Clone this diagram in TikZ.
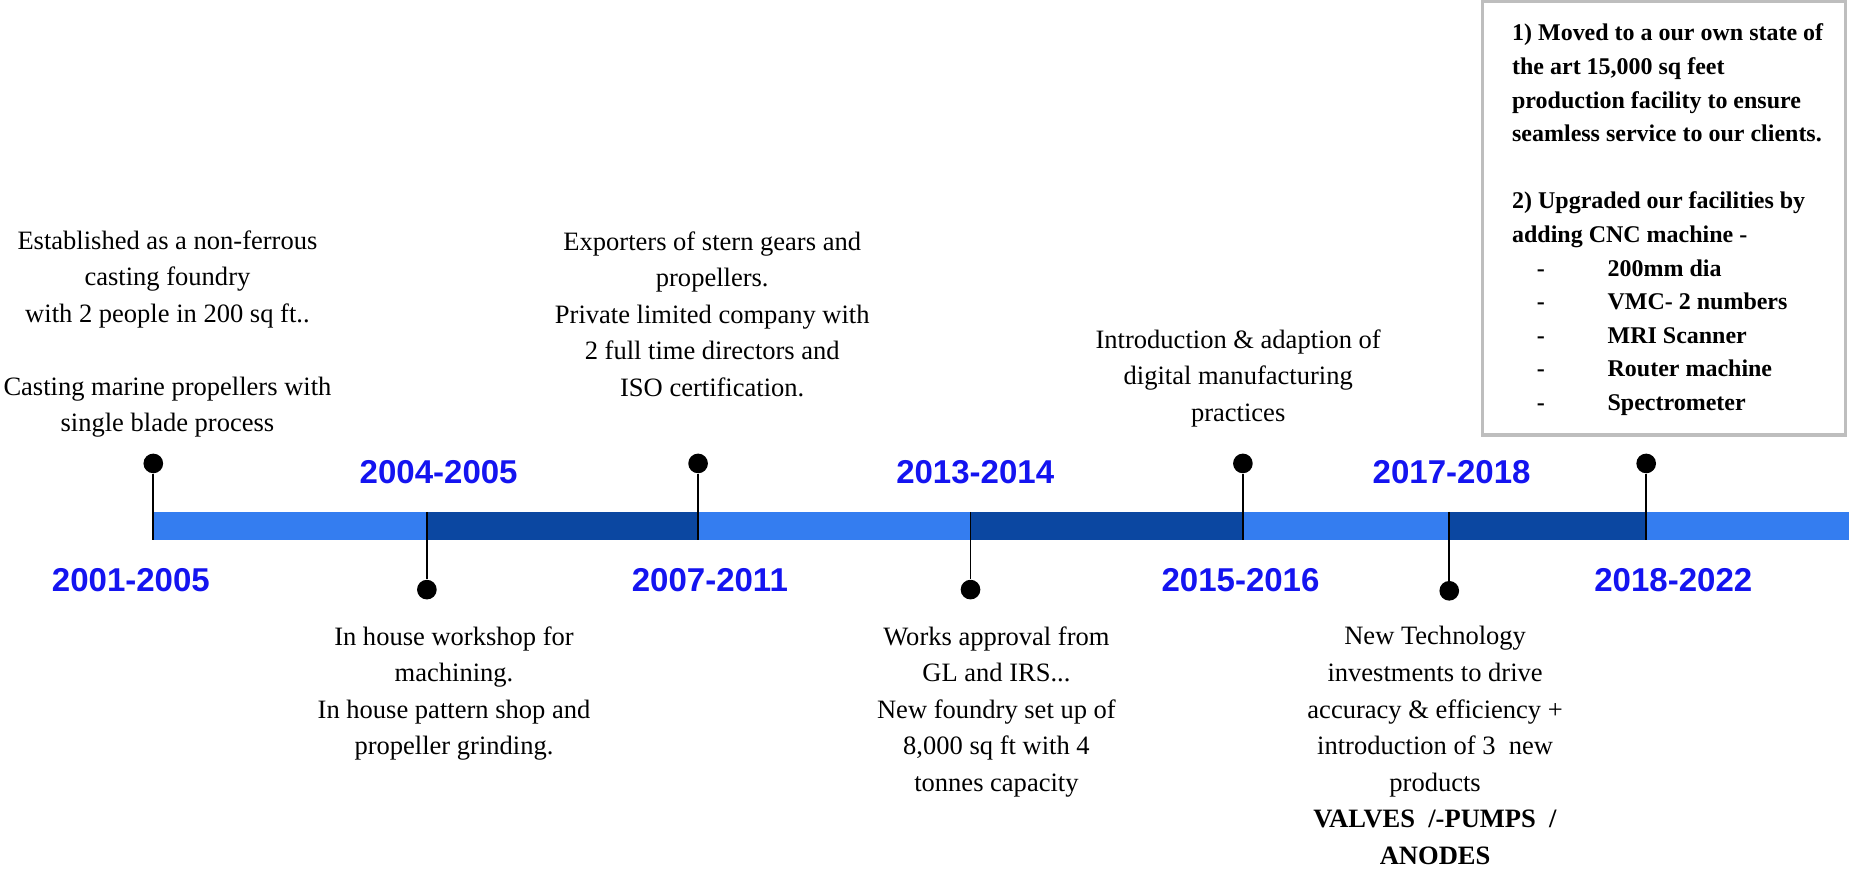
\documentclass[tikz,border=0pt]{standalone}
\usepackage{fontspec}
\setmainfont{Liberation Serif}
\newfontfamily\yearfont{Liberation Sans}
\definecolor{barlight}{RGB}{52,125,240}
\definecolor{bardark}{RGB}{11,71,161}
\definecolor{yearblue}{RGB}{20,20,240}
\definecolor{boxgray}{RGB}{190,190,190}
\newcommand{\machineitem}[1]{\hspace*{12.6pt}\makebox[36pt][l]{-}#1}

\begin{document}
\begin{tikzpicture}[x=0.6pt, y=-0.6pt]
  \tikzstyle{dot} = [circle, fill=black, inner sep=0pt, minimum size=10pt]
  \tikzstyle{stem} = [line width=0.95pt]
  \tikzstyle{year} = [text=yearblue, font=\yearfont\bfseries\fontsize{16.8}{20}\selectfont, inner sep=0pt]
  \tikzstyle{event} = [align=center, font=\fontsize{13.5}{18.6}\selectfont, inner sep=0pt, anchor=north]
  \tikzstyle{facts} = [align=left, font=\bfseries\fontsize{12.2}{17.1}\selectfont, inner sep=0pt, anchor=north west]

  \useasboundingbox (0,0) rectangle (1568,738);

  % Bar
  \foreach \a/\b/\c in {130/362/barlight, 362/592/bardark, 592/823/barlight, 823/1054/bardark,
                        1054/1229/barlight, 1229/1396/bardark, 1396/1568/barlight}
    \fill[\c] (\a,434) rectangle (\b,458);

  % Nodes
  \node[dot] (D1) at (130,393) {};
  \node[dot] (D2) at (362,500) {};
  \node[dot] (D3) at (592,393) {};
  \node[dot] (D4) at (823,500) {};
  \node[dot] (D5) at (1054,393) {};
  \node[dot] (D6) at (1229,501) {};
  \node[dot] (D7) at (1396,393) {};

  \coordinate (B1) at (130,458);
  \coordinate (B2) at (362,434);
  \coordinate (B3) at (592,458);
  \coordinate (B4) at (823,434);
  \coordinate (B5) at (1054,458);
  \coordinate (B6) at (1229,434);
  \coordinate (B7) at (1396,458);

  % Stems
  \draw[stem] (D1) -- (B1);
  \draw[stem] (B2) -- (D2);
  \draw[stem] (D3) -- (B3);
  \draw[stem] (B4) -- (D4);
  \draw[stem] (D5) -- (B5);
  \draw[stem] (B6) -- (D6);
  \draw[stem] (D7) -- (B7);

  % Years
  \node[year] (Y1) at (111,492) {2001-2005};
  \node[year] (Y2) at (372,400) {2004-2005};
  \node[year] (Y3) at (602,492) {2007-2011};
  \node[year] (Y4) at (827,400) {2013-2014};
  \node[year] (Y5) at (1052,492) {2015-2016};
  \node[year] (Y6) at (1231,400) {2017-2018};
  \node[year] (Y7) at (1419,492) {2018-2022};

  % Texts
  \node[event] (T1) at (142,195) {Established as a non-ferrous\\casting foundry\\ with 2 people in 200 sq ft..\\[18.6pt]Casting marine propellers with\\single blade process};
  \node[event] (T2) at (385,531) {In house workshop for\\machining.\\In house pattern shop and\\propeller grinding.};
  \node[event] (T3) at (604,196) {Exporters of stern gears and\\propellers.\\Private limited company with\\2 full time directors and\\ISO certification.};
  \node[event] (T4) at (845,531) {Works approval from\\GL and IRS...\\New foundry set up of\\8,000 sq ft with 4\\tonnes capacity};
  \node[event] (T5) at (1050,279) {Introduction \& adaption of\\digital manufacturing\\practices};
  \node[event] (T6) at (1217,531) {New Technology\\investments to drive\\accuracy \& efficiency +\\introduction of 3~ new\\products\\\textbf{VALVES~ /-PUMPS~ /}\\\textbf{ANODES}};

  % Box
  \draw[boxgray, line width=1.8pt] (1257,1) rectangle (1565,369);
  \node[facts] (T7) at (1282,20) {1) Moved to a our own state of\\the art 15,000 sq feet\\production facility to ensure\\seamless service to our clients.\\[17.1pt]2) Upgraded our facilities by\\adding CNC machine -\\\machineitem{200mm dia}\\\machineitem{VMC- 2 numbers}\\\machineitem{MRI Scanner}\\\machineitem{Router machine}\\\machineitem{Spectrometer}};

\end{tikzpicture}
\end{document}
